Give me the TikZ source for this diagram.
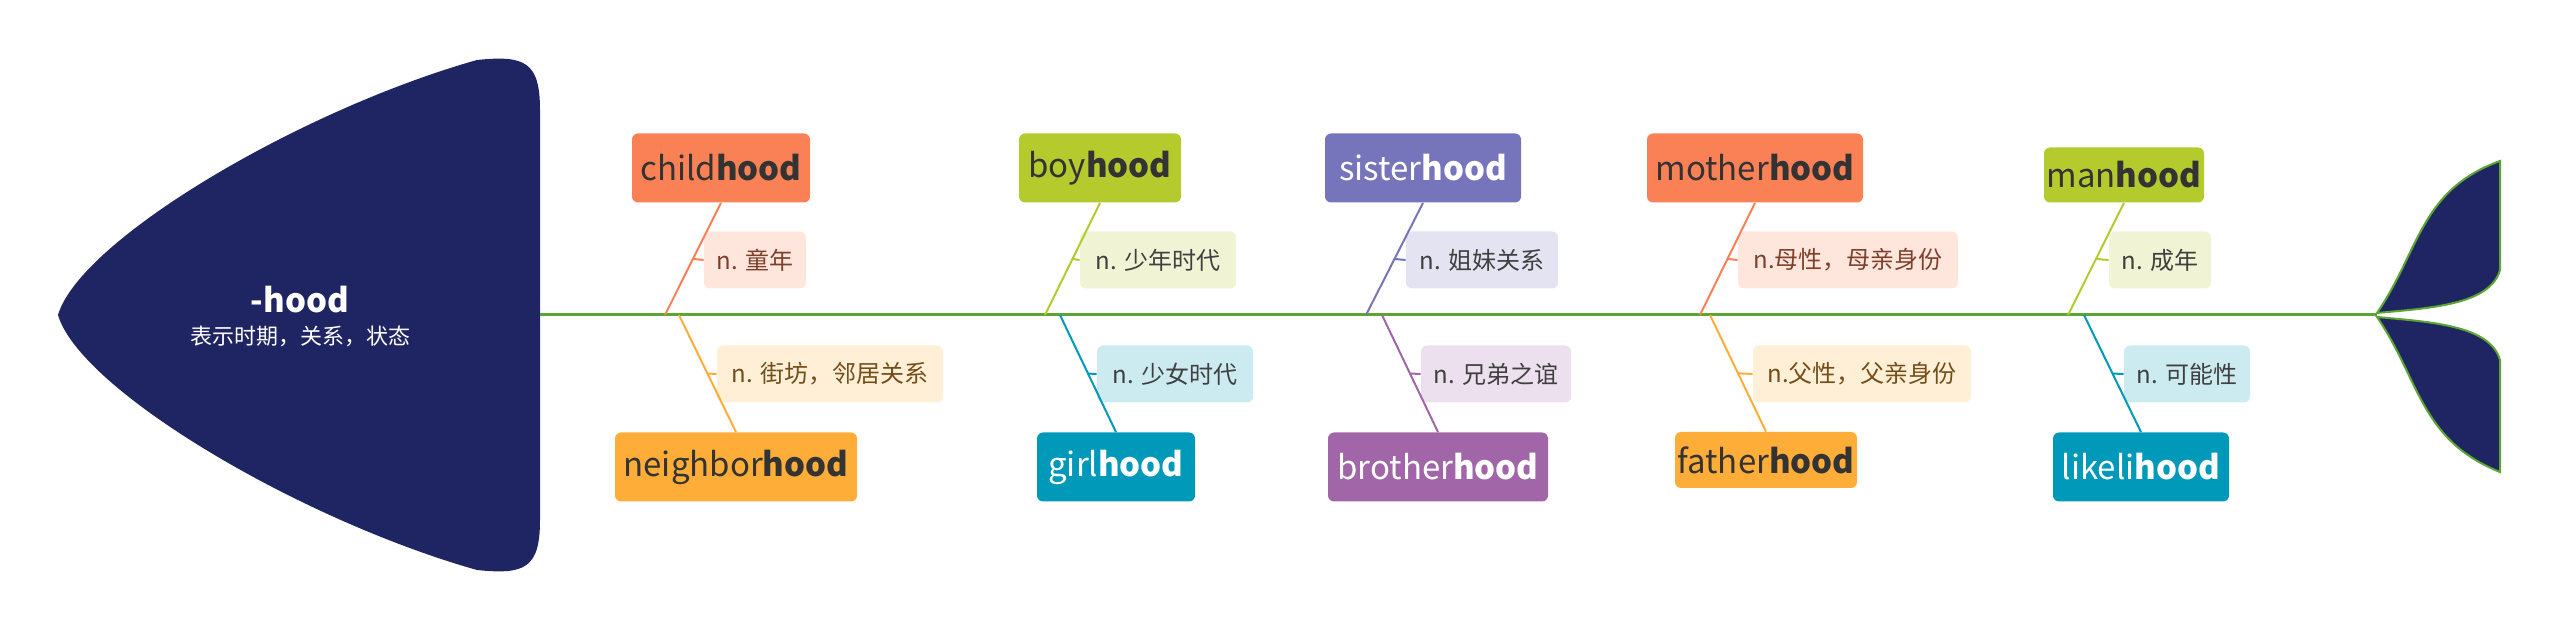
\documentclass[tikz,border=0pt]{standalone}
\usepackage{fontspec}
\setmainfont{Noto Sans CJK SC}
\usetikzlibrary{calc}
\definecolor{cCoral}{HTML}{FA8155}
\definecolor{cOrange}{HTML}{FDAD38}
\definecolor{cGreen}{HTML}{B5CA2D}
\definecolor{cBlue}{HTML}{0199B9}
\definecolor{cViolet}{HTML}{7674BB}
\definecolor{cPurple}{HTML}{A166A8}
\definecolor{cNavy}{HTML}{1F2563}
\definecolor{cSpine}{HTML}{5BA532}
\tikzset{
 bigbox/.style={rounded corners=3pt,inner sep=0pt,minimum height=34.5pt,font=\fontsize{16.5}{18}\selectfont},
 lblbox/.style={rounded corners=3pt,inner sep=0pt,minimum height=28.5pt,font=\fontsize{12}{14}\selectfont},
 bone/.style={line width=1pt},
}
\newcommand\fishbranch[9]{%
 % #1 name, #2 box x, #3 box y, #4 width, #5 text, #6 colour, #7 text colour, #8 spine x, #9 up/down
}
\begin{document}
\begin{tikzpicture}[x=0.5pt,y=-0.5pt]
\useasboundingbox (0,0) rectangle (2560,635);
% head
\fill[cNavy] (540,315) -- (540,110) .. controls (540,62) and (525,55) .. (477,60)
  .. controls (300,110) and (80,240) .. (58,315)
  .. controls (80,390) and (300,520) .. (477,570)
  .. controls (525,575) and (540,568) .. (540,520) -- cycle;
\node[text=white,align=center,font=\fontsize{16.5}{18}\selectfont\bfseries] (head) at (300,300) {-hood};
\node[text=white,font=\fontsize{11}{13}\selectfont] (headsub) at (300,336) {表示时期，关系，状态};
% spine
\coordinate (sp0) at (540,315);
\coordinate (sp1) at (2377,315);
\draw[cSpine,line width=1.5pt] (sp0) -- (sp1);
% tail
\filldraw[fill=cNavy,draw=cSpine,line width=1pt] (2377,313) .. controls (2420,250) and (2420,190) .. (2500,161) -- (2500,270) .. controls (2490,305) and (2430,308) .. cycle;
\filldraw[fill=cNavy,draw=cSpine,line width=1pt] (2377,317) .. controls (2420,380) and (2420,440) .. (2500,472) -- (2500,360) .. controls (2490,325) and (2430,322) .. cycle;
% boxes
\node[bigbox,fill=cCoral,text=black!80,minimum width=89pt] (b1) at (721,168) {child\textbf{hood}};
\node[lblbox,fill=cCoral!20,text=cCoral!50!black,minimum width=51pt] (l1) at (755,260) {n. 童年};
\node[bigbox,fill=cOrange,text=black!80,minimum width=121pt] (b2) at (736,467) {neighbor\textbf{hood}};
\node[lblbox,fill=cOrange!20,text=cOrange!45!black,minimum width=113pt] (l2) at (830,374) {n. 街坊，邻居关系};
\node[bigbox,fill=cGreen,text=black!80,minimum width=81pt] (b3) at (1100,168) {boy\textbf{hood}};
\node[lblbox,fill=cGreen!20,text=black!75,minimum width=78pt] (l3) at (1158,260) {n. 少年时代};
\node[bigbox,fill=cBlue,text=white,minimum width=79pt] (b4) at (1116,467) {girl\textbf{hood}};
\node[lblbox,fill=cBlue!20,text=black!75,minimum width=78pt] (l4) at (1175,374) {n. 少女时代};
\node[bigbox,fill=cViolet,text=white,minimum width=98pt] (b5) at (1423,168) {sister\textbf{hood}};
\node[lblbox,fill=cViolet!20,text=black!75,minimum width=76pt] (l5) at (1482,260) {n. 姐妹关系};
\node[bigbox,fill=cPurple,text=white,minimum width=110pt] (b6) at (1438,467) {brother\textbf{hood}};
\node[lblbox,fill=cPurple!20,text=black!75,minimum width=75pt] (l6) at (1496,374) {n. 兄弟之谊};
\node[bigbox,fill=cCoral,text=black!80,minimum width=108pt] (b7) at (1755,168) {mother\textbf{hood}};
\node[lblbox,fill=cCoral!20,text=cCoral!50!black,minimum width=110pt] (l7) at (1848,260) {n.母性，母亲身份};
\node[bigbox,fill=cOrange,text=black!80,minimum width=91pt,minimum height=28pt] (b8) at (1766,460) {father\textbf{hood}};
\node[lblbox,fill=cOrange!20,text=cOrange!45!black,minimum width=109pt] (l8) at (1862,374) {n.父性，父亲身份};
\node[bigbox,fill=cGreen,text=black!80,minimum width=80pt,minimum height=27.5pt] (b9) at (2124,175) {man\textbf{hood}};
\node[lblbox,fill=cGreen!20,text=black!75,minimum width=51pt] (l9) at (2160,260) {n. 成年};
\node[bigbox,fill=cBlue,text=white,minimum width=88pt] (b10) at (2141,467) {likeli\textbf{hood}};
\node[lblbox,fill=cBlue!20,text=black!75,minimum width=63pt] (l10) at (2187,374) {n. 可能性};
% spine points
\coordinate (s1) at (665,315); \coordinate (s2) at (679,315);
\coordinate (s3) at (1045,315); \coordinate (s4) at (1060,315);
\coordinate (s5) at (1366,315); \coordinate (s6) at (1382,315);
\coordinate (s7) at (1700,315); \coordinate (s8) at (1710,315);
\coordinate (s9) at (2068,315); \coordinate (s10) at (2084,315);
% bones
\foreach \i/\c in {1/cCoral,2/cOrange,3/cGreen,4/cBlue,5/cViolet,6/cPurple,7/cCoral,8/cOrange,9/cGreen,10/cBlue}{
  \ifodd\i
    \draw[bone,\c] (b\i.south) -- (s\i);
    \draw[bone,\c] ($(b\i.south)!0.5!(s\i)$) -- (l\i.west);
  \else
    \draw[bone,\c] (s\i) -- (b\i.north);
    \draw[bone,\c] ($(s\i)!0.5!(b\i.north)$) -- (l\i.west);
  \fi
}
\end{tikzpicture}
\end{document}
